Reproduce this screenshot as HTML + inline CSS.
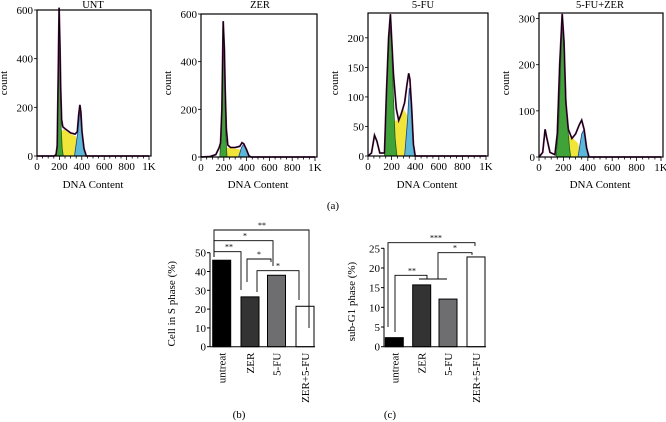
<!DOCTYPE html>
<html><head><meta charset="utf-8"><style>
body{margin:0;background:#fff}
svg{display:block;font-family:"Liberation Serif",serif}
</style></head><body>
<svg id="fig" width="666" height="422" viewBox="0 0 666 422"></svg>
<script>
const NS="http://www.w3.org/2000/svg";
const svg=document.getElementById('fig');
function mk(tag,attrs,parent,text){const e=document.createElementNS(NS,tag);for(const k in attrs)e.setAttribute(k,attrs[k]);if(text!==undefined)e.textContent=text;(parent||svg).appendChild(e);return e;}

// ---- Histogram data (DNA content, count) ----
const histTitles=["UNT","ZER","5-FU","5-FU+ZER"];
const histYTicks=[[0,200,400,600],[0,200,400,600],[0,50,100,150,200],[0,100,200,300]];
const xTickLabels=["0","200","400","600","800","1K"];
const xTickValues=[0,200,400,600,800,1000];
const envUNT=[[0,0],[150,0],[170,5],[180,40],[188,300],[197,610],[205,450],[212,280],[220,150],[230,120],[250,112],[300,95],[340,90],[360,100],[372,170],[383,210],[392,180],[402,100],[420,30],[440,0],[1000,0]];
const g1UNT=[[170,0],[180,60],[188,350],[197,600],[206,350],[215,120],[225,30],[235,0]];
const sUNT=[[200,0],[215,100],[240,110],[300,90],[350,80],[380,30],[400,0]];
const g2UNT=[[335,0],[365,100],[383,190],[400,100],[420,30],[440,0]];
const envZER=[[0,0],[80,2],[130,10],[160,40],[172,60],[183,200],[195,570],[205,450],[212,280],[222,120],[235,50],[260,40],[300,40],[340,45],[360,60],[375,55],[400,30],[420,5],[440,0],[1000,0]];
const g1ZER=[[165,0],[180,120],[195,570],[207,380],[217,100],[228,0]];
const sZER=[[200,0],[230,40],[300,35],[360,30],[400,0]];
const g2ZER=[[330,0],[355,40],[375,55],[400,30],[430,0]];
const envFU=[[0,0],[30,5],[55,35],[75,25],[100,5],[140,5],[155,100],[175,200],[190,240],[200,200],[215,140],[240,80],[260,60],[280,70],[310,90],[330,120],[345,140],[355,130],[370,80],[385,20],[400,0],[1000,0]];
const g1FU=[[140,0],[155,90],[185,220],[200,190],[215,100],[230,30],[245,0]];
const sFU=[[190,0],[230,60],[260,60],[300,80],[330,70],[350,30],[370,0]];
const g2FU=[[310,0],[335,60],[350,115],[365,90],[385,20],[395,0]];
const envFZ=[[0,0],[30,10],[50,60],[65,40],[90,10],[130,5],[150,50],[170,200],[190,310],[205,250],[220,120],[240,60],[270,40],[300,50],[330,70],[350,80],[370,60],[390,20],[410,0],[1000,0]];
const g1FZ=[[140,0],[160,60],[190,300],[210,200],[230,80],[250,20],[260,0]];
const sFZ=[[200,0],[230,50],[280,40],[320,30],[350,0]];
const g2FZ=[[320,0],[350,50],[370,60],[390,20],[405,0]];

const panels=[
 {x0:37,x1:149,right:151,top:10,y0:156,ymax:600,env:envUNT,g1:g1UNT,s:sUNT,g2:g2UNT,tx:93},
 {x0:201,x1:315,right:317,top:14,y0:157,ymax:600,env:envZER,g1:g1ZER,s:sZER,g2:g2ZER,tx:260},
 {x0:368,x1:486,right:488,top:13,y0:156,ymax:242,env:envFU,g1:g1FU,s:sFU,g2:g2FU,tx:423},
 {x0:539,x1:661,right:663,top:13,y0:157,ymax:312,env:envFZ,g1:g1FZ,s:sFZ,g2:g2FZ,tx:600}
];
const names=["unt","zer","fu","fu-zer"];
panels.forEach((p,i)=>{
 const g=mk('g',{});
 
 
 const X=v=>p.x0+(p.x1-p.x0)*v/1000;
 const Y=v=>p.y0-(p.y0-p.top)*v/p.ymax;
 const pts=a=>a.map(d=>X(d[0]).toFixed(1)+','+Y(d[1]).toFixed(1)).join(' ');
 const sp=mk('polygon',{points:pts(p.s),fill:'#f2e53a',stroke:'none'},g);
 
 const g2=mk('polygon',{points:pts(p.g2),fill:'#5cb8d8',stroke:'#1a3f8a','stroke-width':0.8},g);
 
 const g1=mk('polygon',{points:pts(p.g1),fill:'#3fa33a',stroke:'#1d5a1b','stroke-width':0.8},g);
 
 const env=mk('polyline',{points:pts(p.env),fill:'none',stroke:'#6a1a5a','stroke-width':1.8},g);
 
 const envb=mk('polyline',{points:pts(p.env),fill:'none',stroke:'#000','stroke-width':0.9},g);
 
 const box=mk('rect',{x:p.x0,y:p.top,width:p.right-p.x0,height:p.y0-p.top,fill:'none',stroke:'#000','stroke-width':1.2},g);
 
 for(let v=0;v<=1000;v+=50){mk('line',{x1:X(v),x2:X(v),y1:p.y0,y2:p.y0+(v%200===0?4:2.5),stroke:'#000','stroke-width':0.8},g);}
 xTickValues.forEach((v,k)=>{const t=mk('text',{x:X(v),y:p.y0+14,'font-size':11,'text-anchor':'middle'},g,xTickLabels[k]);});
 histYTicks[i].forEach(v=>{mk('line',{x1:p.x0-3,x2:p.x0,y1:Y(v),y2:Y(v),stroke:'#000','stroke-width':0.8},g);
  const t=mk('text',{x:p.x0-4,y:Y(v)+4,'font-size':11,'text-anchor':'end'},g,String(v));});
 const tt=mk('text',{x:p.tx,y:8,'font-size':10.5,'text-anchor':'middle'},g,histTitles[i]);
 const xl=mk('text',{x:(p.x0+p.x1)/2,y:188,'font-size':11,'text-anchor':'middle'},g,'DNA Content');
 const cx=p.x0-30;const yl=mk('text',{x:cx,y:83,'font-size':11,'text-anchor':'middle',transform:`rotate(-90 ${cx} 83)`},g,'count');
});

// ---- Bar charts ----
const barCats=["untreat","ZER","5-FU","ZER+5-FU"];
const sPhase=[46,26.5,38,21.5];
const subG1=[2.3,15.7,12.1,22.8];
const barFills=["#000","#333","#6e6e70","#fff"];
const sTicks=[0,10,20,30,40,50];
const gTicks=[0,5,10,15,20,25];

function barChart(cfg){
 const g=mk('g',{});
 
 
 const Y=v=>cfg.y0-(cfg.y0-cfg.yTop)*v/cfg.vmax;
 cfg.vals.forEach((v,i)=>{
  const x=cfg.bx[i];
  const r=mk('rect',{x:x,y:Y(v),width:cfg.bw,height:cfg.y0-Y(v),fill:barFills[i],stroke:'#000','stroke-width':1},g);
  
  
  const cx=x+cfg.bw/2+4, cy=cfg.y0+6;
  const t=mk('text',{x:cx,y:cy,'font-size':11,'text-anchor':'end',transform:`rotate(-90 ${cx} ${cy})`},g,barCats[i]);
  
 });
 mk('line',{x1:cfg.ax,x2:cfg.ax,y1:cfg.yTop,y2:cfg.y0,stroke:'#000','stroke-width':1},g);
 mk('line',{x1:cfg.ax,x2:cfg.xEnd,y1:cfg.y0,y2:cfg.y0,stroke:'#000','stroke-width':1},g);
 cfg.ticks.forEach(v=>{mk('line',{x1:cfg.ax-3,x2:cfg.ax,y1:Y(v),y2:Y(v),stroke:'#000','stroke-width':1},g);
  const t=mk('text',{x:cfg.ax-4,y:Y(v)+4,'font-size':11,'text-anchor':'end'},g,String(v));});
 const cy=(cfg.yTop+cfg.y0)/2+4;
 const yl=mk('text',{x:cfg.ylx,y:cy,'font-size':11,'text-anchor':'middle',transform:`rotate(-90 ${cfg.ylx} ${cy})`},g,cfg.ylabel);
 
 cfg.brackets.forEach(b=>{
  const pth=mk('path',{d:`M${b[0]},${b[3]} L${b[0]},${b[2]} L${b[1]},${b[2]} L${b[1]},${b[4]}`,fill:'none',stroke:'#000','stroke-width':0.9},g);
  
  const t=mk('text',{x:b[5],y:b[2]-2,'font-size':8,'text-anchor':'middle'},g,b[6]);
  
 });
}
barChart({name:'s-phase-bar-chart',vals:sPhase,ticks:sTicks,vmax:50,y0:346.7,yTop:252.7,ax:210,xEnd:315,bx:[212.7,241,267.5,296],bw:18,ylx:175,ylabel:'Cell in S phase (%)',
 brackets:[[214,309,230,257,328,262,'**'],[214,273,240.7,257,266,245,'*'],[214,241,251.7,257,290,229,'**'],[247,271,259,282,262,259,'*'],[257,299,270.7,292,300,278,'*']]});
barChart({name:'sub-g1-bar-chart',vals:subG1,ticks:gTicks,vmax:25,y0:346.7,yTop:248.3,ax:384,xEnd:486,bx:[385.3,412.7,439,467],bw:18,ylx:355,ylabel:'sub-G1 phase (%)',
 brackets:[[388,475,242.7,327,246,436,'***'],[438,472,252.7,279,255,455,'*'],[395,427,275.3,332,279,412,'**'],[419,447,279,279,279,433,'']]});

[['(a)',333,209],['(b)',239,418],['(c)',390,418]].forEach(d=>{
 const t=mk('text',{x:d[1],y:d[2],'font-size':11,'text-anchor':'middle'},svg,d[0]);
 
 
});
</script>
</body></html>
